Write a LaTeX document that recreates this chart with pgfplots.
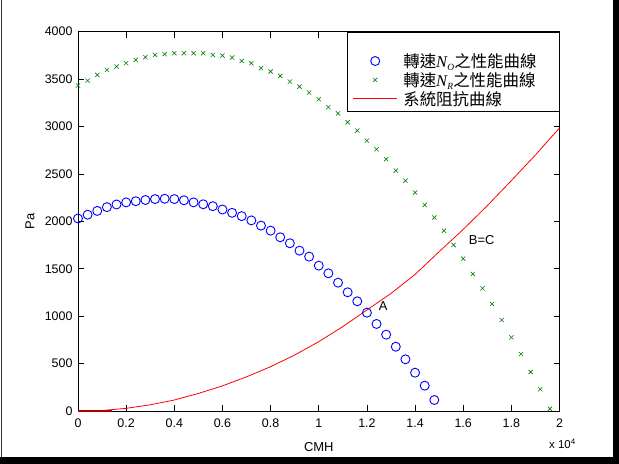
\documentclass[border=0pt]{standalone}
\usepackage{pgfplots}
\pgfplotsset{compat=1.18}
\usepackage{fontspec}
\setmainfont{Liberation Sans}
\newfontfamily\cjk{Noto Sans CJK TC}
\newfontfamily\tms{Liberation Serif}
\newcommand{\Nsub}[1]{{\tms\itshape N\kern0.3pt\raisebox{-0.4ex}{\fontsize{9.5}{9.5}\selectfont #1}}}

\definecolor{mblue}{RGB}{0,0,255}
\definecolor{mgreen}{RGB}{0,128,0}
\definecolor{mred}{RGB}{255,0,0}
\definecolor{mdarkred}{RGB}{170,0,0}

% fan curve at speed N_O
\pgfplotstableread{
q P
0 2030
400 2070
800 2110
1200 2150
1600 2178
2000 2200
2400 2212
2800 2225
3200 2235
3600 2238
4000 2235
4400 2222
4800 2200
5200 2180
5600 2160
6000 2125
6400 2090
6800 2055
7200 2010
7600 1955
8000 1902
8400 1832
8800 1769
9200 1691
9600 1628
10000 1533
10400 1452
10800 1353
11200 1252
11600 1157
12000 1037
12400 918
12800 805
13200 678
13600 545
14000 404
14400 267
14800 116
}\curveO

% fan curve at speed N_R
\pgfplotstableread{
q P
0 3432
400 3484
800 3544
1200 3597
1600 3632
2000 3668
2400 3703
2800 3731
3200 3755
3600 3763
4000 3773
4400 3773
4800 3773
5200 3773
5600 3755
6000 3748
6400 3727
6800 3692
7200 3668
7600 3615
8000 3580
8400 3534
8800 3474
9200 3421
9600 3358
10000 3288
10400 3204
10800 3138
11200 3045
11600 2957
12000 2851
12400 2760
12800 2655
13200 2535
13600 2429
14000 2303
14400 2173
14800 2040
15200 1902
15600 1751
16000 1607
16400 1445
16800 1294
17200 1129
17600 960
18000 777
18400 601
18800 411
19200 229
19600 24
}\curveR

% system resistance curve
\pgfplotstableread{
q P
0 0
1000 5
2000 28
3000 65
4000 116
5000 185
6000 265
7000 360
8000 467
9000 590
10000 731
11000 890
12000 1065
13000 1240
14000 1440
15000 1680
16000 1915
17000 2165
18000 2430
19000 2700
20000 2985
}\system

\begin{document}
\begin{tikzpicture}[x=1bp,y=1bp]
\useasboundingbox (0,0) rectangle (619,464);
% page frame with shadow
\fill[black] (0,0) rectangle (619,7);
\fill[black] (613,0) rectangle (619,464);
\draw[black!80, line width=0.8bp] (1,7) -- (1,464);

\begin{axis}[
  at={(78bp,53bp)}, anchor=south west,
  scale only axis, width=481.5bp, height=379.3bp,
  xmin=0, xmax=20000, ymin=0, ymax=4000,
  clip=false,
  axis line style={line width=0.8bp, black},
  major tick style={line width=0.6bp, black},
  major tick length=6bp,
  tick align=inside,
  xtick={0,2000,...,20000},
  xticklabels={0,0.2,0.4,0.6,0.8,1,1.2,1.4,1.6,1.8,2},
  ytick={0,500,...,4000},
  scaled x ticks=false, scaled y ticks=false,
  /pgf/number format/1000 sep={},
  /pgf/number format/assume math mode=true,
  tick label style={font=\fontsize{12.5}{14}\selectfont},
  xticklabel style={yshift=-4bp},
  yticklabel style={xshift=-2bp},
  xlabel={CMH}, ylabel={Pa},
  every axis x label/.style={at={(axis description cs:0.5,-0.094)}, anchor=center, font=\fontsize{13}{14}\selectfont},
  every axis y label/.style={at={(axis description cs:-0.0997,0.5)}, rotate=90, anchor=center, font=\fontsize{13}{14}\selectfont},
  legend style={at={(rel axis cs:1,1)}, anchor=north east, draw=black, line width=0.8bp,
    inner xsep=5bp, inner ysep=3.5bp, row sep=0bp, column sep=4bp,
    font=\fontsize{16.5}{18}\selectfont,
    nodes={inner sep=1.75bp, text width=149bp, align=left, anchor=west}},
  legend image code/.code={\draw[mark repeat=2,mark phase=2,#1] plot coordinates {(0bp,0bp) (22bp,0bp) (44bp,0bp)};},
]
% spacer row at the top of the legend box
\addlegendimage{empty legend}
\addlegendentry{\rule{0pt}{11bp}}

\addplot[only marks, mark=o, mark size=4.5bp, mblue, mark options={line width=0.9bp}] table[x=q,y=P] {\curveO};
\addlegendentry{{\cjk 轉速}\Nsub{O}{\cjk 之性能曲線}}
\addplot[only marks, mark=x, mark size=3bp, mgreen, mark options={line width=0.6bp}] table[x=q,y=P] {\curveR};
\addlegendentry{{\cjk 轉速}\Nsub{R}{\cjk 之性能曲線}}
\addplot[mred, line width=0.8bp, no marks] table[x=q,y=P] {\system};
\addlegendentry{{\cjk 系統阻抗曲線}}
\addplot[mdarkred, line width=1.8bp, no marks, forget plot] coordinates {(0,0) (1400,0)};

\node[font=\fontsize{13}{14}\selectfont] at (axis cs:12680,1108) {A};
\node[font=\fontsize{13}{14}\selectfont] at (axis cs:16770,1804) {B=C};
\node[anchor=west, font=\fontsize{11.5}{13}\selectfont, inner sep=0pt] at (axis description cs:0.978,-0.087) {x 10\textsuperscript{4}};
\end{axis}
\end{tikzpicture}
\end{document}
